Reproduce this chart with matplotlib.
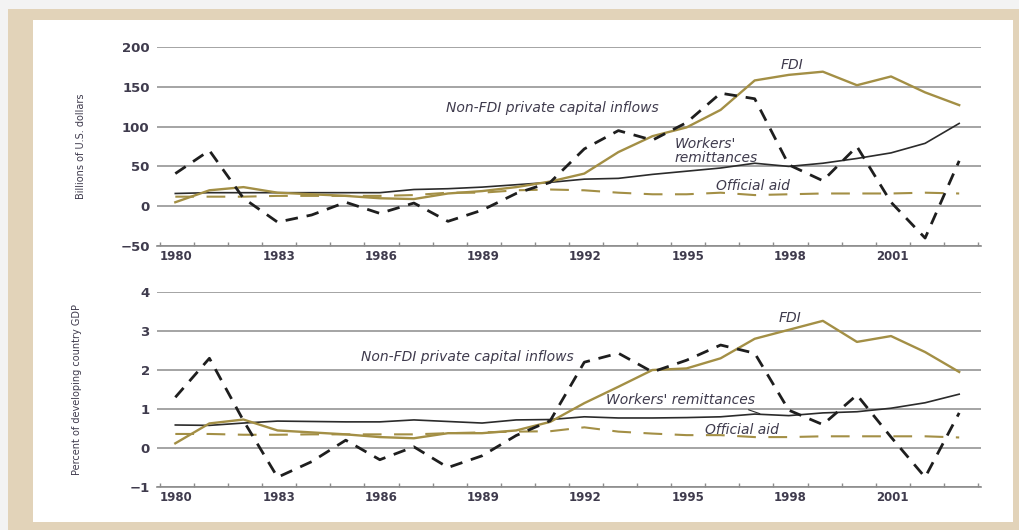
import numpy as np
import matplotlib
matplotlib.use("Agg")
import matplotlib.pyplot as plt
from matplotlib.patches import Rectangle

# data (1980-2003)
years = np.arange(1980, 2004)

# top panel, billions of U.S. dollars
top_nonfdi = [41, 70, 10, -20, -11, 5, -9, 4, -19, -5, 16, 30, 72, 95, 83, 105, 142, 135, 52, 32, 75, 5, -40, 57]
top_fdi = [5, 20, 24, 17, 15, 13, 10, 9, 16, 19, 24, 31, 41, 68, 88, 99, 121, 158, 165, 169, 152, 163, 143, 127]
top_remit = [16, 17, 17, 17, 17, 17, 17, 21, 22, 24, 27, 30, 34, 35, 40, 44, 48, 54, 50, 54, 60, 67, 79, 104]
top_aid = [12, 12, 12, 13, 13, 13, 13, 14, 17, 17, 20, 21, 20, 17, 15, 15, 17, 14, 15, 16, 16, 16, 17, 16]

# bottom panel, percent of developing country GDP
bot_nonfdi = [1.3, 2.3, 0.7, -0.75, -0.35, 0.2, -0.3, 0.03, -0.5, -0.2, 0.32, 0.7, 2.2, 2.43, 1.95, 2.25, 2.64, 2.43, 0.97, 0.6, 1.36, 0.28, -0.75, 0.9]
bot_fdi = [0.12, 0.63, 0.73, 0.45, 0.4, 0.35, 0.28, 0.25, 0.38, 0.38, 0.45, 0.67, 1.15, 1.57, 2.0, 2.04, 2.3, 2.8, 3.03, 3.26, 2.72, 2.87, 2.46, 1.95]
bot_remit = [0.59, 0.58, 0.64, 0.69, 0.68, 0.67, 0.67, 0.72, 0.68, 0.64, 0.72, 0.73, 0.8, 0.77, 0.77, 0.78, 0.8, 0.87, 0.83, 0.9, 0.93, 1.02, 1.16, 1.38]
bot_aid = [0.36, 0.36, 0.34, 0.34, 0.35, 0.35, 0.35, 0.35, 0.38, 0.4, 0.42, 0.43, 0.53, 0.42, 0.37, 0.33, 0.33, 0.28, 0.28, 0.3, 0.3, 0.3, 0.3, 0.27]

top_yticks = [-50, 0, 50, 100, 150, 200]
bot_yticks = [-1, 0, 1, 2, 3, 4]
year_labels = [1980, 1983, 1986, 1989, 1992, 1995, 1998, 2001]

olive = "#a38f45"
ink = "#3f3b4d"
grid_gray = "#8c8c8c"

x = years + 0.45  # points sit mid-year

fig = plt.figure(figsize=(10.2, 5.3), dpi=100)
fig.patch.set_facecolor("#f3f3f3")
# beige frame with white card
fig.add_artist(Rectangle((8 / 1020, 0), 1012 / 1020, 521 / 530, transform=fig.transFigure,
                         facecolor="#e2d3b9", edgecolor="none", zorder=0))
fig.add_artist(Rectangle((33 / 1020, 8 / 530), 980 / 1020, 502 / 530, transform=fig.transFigure,
                         facecolor="white", edgecolor="none", zorder=0))

ax1 = fig.add_axes([0.1535, 0.5358, 0.8086, 0.3755])
ax2 = fig.add_axes([0.1535, 0.0811, 0.8086, 0.3680])


def style_axis(ax, yticks, ylabel, label_x):
    ax.set_facecolor("none")
    ax.set_xlim(1979.9, 2004.1)
    ax.set_ylim(yticks[0], yticks[-1])
    ax.set_yticks(yticks)
    ax.set_yticklabels([str(v).replace("-", "\u2212") for v in yticks],
                       fontsize=9.5, fontweight="bold", color=ink)
    ax.tick_params(axis="y", length=0, pad=5)
    ax.set_xticks(range(1980, 2005))
    ax.set_xticklabels([str(y) if y in year_labels else "" for y in range(1980, 2005)],
                       fontsize=8.5, fontweight="bold", color=ink)
    for lab in ax.get_xticklabels():
        lab.set_ha("left")
    ax.tick_params(axis="x", direction="in", length=3, width=1, color=grid_gray, pad=3)
    for s in ["top", "right", "left"]:
        ax.spines[s].set_visible(False)
    ax.spines["bottom"].set_color(grid_gray)
    ax.spines["bottom"].set_linewidth(1.2)
    ax.yaxis.grid(True, color=grid_gray, linewidth=1.1)
    ax.set_axisbelow(True)
    ax.set_ylabel(ylabel, fontsize=7, color=ink, family=["Liberation Sans Narrow", "DejaVu Sans"])
    ax.yaxis.set_label_coords(label_x, 0.5)


def draw_lines(ax, nonfdi, fdi, remit, aid):
    ax.plot(x, aid, color=olive, linewidth=1.5, dashes=(9, 6))
    ax.plot(x, remit, color="#2b2b2b", linewidth=1.2)
    ax.plot(x, fdi, color=olive, linewidth=1.7)
    ax.plot(x, nonfdi, color="#1e1e1e", linewidth=2.0, dashes=(4.5, 3.2))


style_axis(ax1, top_yticks, "Billions of U.S. dollars", -0.085)
style_axis(ax2, bot_yticks, "Percent of developing country GDP", -0.09)

draw_lines(ax1, top_nonfdi, top_fdi, top_remit, top_aid)
draw_lines(ax2, bot_nonfdi, bot_fdi, bot_remit, bot_aid)

note = dict(fontsize=10, style="italic", color=ink)

ax1.text(1998.55, 177, "FDI", ha="center", va="center", **note)
ax1.text(1988.4, 124, "Non-FDI private capital inflows", ha="left", va="center", **note)
ax1.text(1995.1, 69, "Workers'\nremittances", ha="left", va="center", linespacing=1.0, **note)
ax1.text(1996.3, 26, "Official aid", ha="left", va="center", **note)

ax2.text(1998.5, 3.33, "FDI", ha="center", va="center", **note)
ax2.text(1985.9, 2.33, "Non-FDI private capital inflows", ha="left", va="center", **note)
ax2.annotate("Workers' remittances", xy=(1997.6, 0.88), xytext=(1993.1, 1.23),
             ha="left", va="center", arrowprops=dict(arrowstyle="-", color="#2b2b2b", lw=0.8,
                                                     shrinkA=0, shrinkB=0,
                                                     relpos=(0.9, 0.0)), **note)
ax2.text(1996.0, 0.46, "Official aid", ha="left", va="center", **note)

fig.savefig("out.png", dpi=100, facecolor=fig.get_facecolor())
